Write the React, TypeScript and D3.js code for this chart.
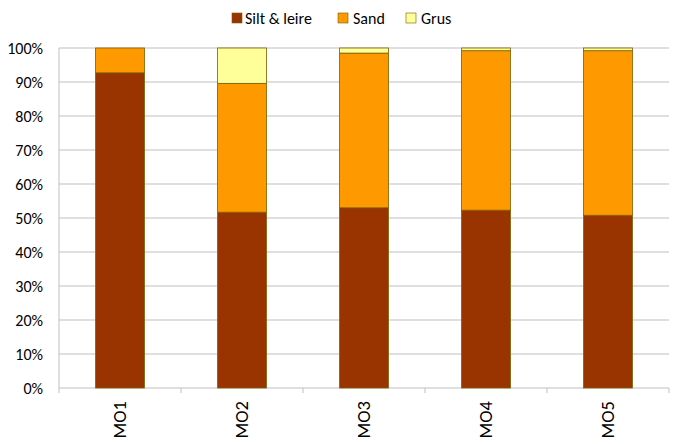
import React from "react";
import * as d3 from "d3";

const categories = ["MO1", "MO2", "MO3", "MO4", "MO5"];
const siltLeire = [92.7, 51.7, 53.0, 52.3, 50.8];
const sand = [7.3, 37.9, 45.5, 46.9, 48.4];
const grus = [0, 10.4, 1.5, 0.8, 0.8];
const seriesNames = ["Silt & leire", "Sand", "Grus"];
const seriesColors = ["#993300", "#FF9900", "#FFFF99"];
const yTicks = [0, 10, 20, 30, 40, 50, 60, 70, 80, 90, 100];

const W = 680, H = 444;
const left = 59, right = 669, top = 48, bottom = 388;
const font = "Carlito, Lato, 'Liberation Sans', sans-serif";

export default function App() {
  const x = d3.scaleBand<string>().domain(categories).range([left, right]).paddingInner(0.6).paddingOuter(0.3);
  const xOuter = d3.scaleBand<string>().domain(categories).range([left, right]);
  const y = d3.scaleLinear().domain([0, 100]).range([bottom, top]);
  const rows = categories.map((c, i) => ({ cat: c, s0: siltLeire[i], s1: sand[i], s2: grus[i] }));
  const stack = d3.stack<any>().keys(["s0", "s1", "s2"])(rows);

  const legendItems = [
    { x: 232, tx: 245 },
    { x: 338, tx: 353 },
    { x: 406, tx: 421 },
  ];

  return (
    <svg width={W} height={H} style={{ position: "absolute", left: 0, top: 0 }} fontFamily={font}>
      <rect width={W} height={H} fill="#fff" />
      {yTicks.map((t) => (
        <g key={t}>
          <line x1={left} x2={right} y1={y(t)} y2={y(t)} stroke="#bfbfbf" strokeWidth={1} />
          <text x={43} y={y(t)} dy="0.35em" textAnchor="end" fontSize={16} fill="#000">{t}%</text>
        </g>
      ))}
      <line x1={left} x2={left} y1={top} y2={bottom} stroke="#bfbfbf" />
      {categories.map((c) => (
        <line key={c} x1={(xOuter(c) as number)} x2={(xOuter(c) as number)} y1={bottom} y2={bottom + 5} stroke="#bfbfbf" />
      ))}
      <line x1={right} x2={right} y1={bottom} y2={bottom + 5} stroke="#bfbfbf" />
      {stack.map((layer, li) => (
        <g key={li}>
          {layer.map((d, i) => (
            d[1] - d[0] > 0 ? (
              <rect key={i} x={x(categories[i])} width={x.bandwidth()} y={y(d[1])} height={y(d[0]) - y(d[1])}
                fill={seriesColors[li]} stroke="#7a5c00" strokeWidth={0.8} />
            ) : null
          ))}
        </g>
      ))}
      {categories.map((c) => {
        const cx = (x(c) as number) + x.bandwidth() / 2;
        return (
          <text key={c} transform={`translate(${cx},${bottom + 13}) rotate(-90)`} textAnchor="end" dy="0.35em" fontSize={18.5} fill="#000">{c}</text>
        );
      })}
      {seriesNames.map((n, i) => (
        <g key={n}>
          <rect x={legendItems[i].x} y={13} width={10} height={10} fill={seriesColors[i]} stroke="#7a5c00" strokeWidth={0.6} />
          <text x={legendItems[i].tx} y={18} dy="0.35em" fontSize={16} fill="#000">{n}</text>
        </g>
      ))}
    </svg>
  );
}
